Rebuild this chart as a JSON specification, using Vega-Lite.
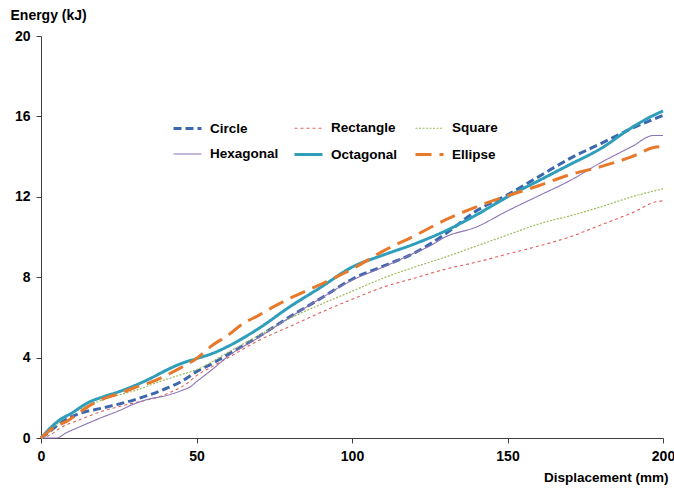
{
  "$schema": "https://vega.github.io/schema/vega-lite/v6.json",
  "width": 622,
  "height": 402,
  "autosize": {"type": "none"},
  "padding": {"left": 41, "top": 36, "right": 11, "bottom": 52},
  "background": "white",
  "config": {
    "view": {"stroke": null},
    "font": "Liberation Sans"
  },
  "data": {
    "values": [
      {"series": "Circle", "x": 0, "y": 0},
      {"series": "Circle", "x": 3, "y": 0.35},
      {"series": "Circle", "x": 6, "y": 0.73},
      {"series": "Circle", "x": 12, "y": 1.2},
      {"series": "Circle", "x": 20, "y": 1.5},
      {"series": "Circle", "x": 30, "y": 1.9},
      {"series": "Circle", "x": 40, "y": 2.45},
      {"series": "Circle", "x": 45, "y": 2.8},
      {"series": "Circle", "x": 50, "y": 3.3},
      {"series": "Circle", "x": 55, "y": 3.7},
      {"series": "Circle", "x": 60, "y": 4.15},
      {"series": "Circle", "x": 70, "y": 5.05},
      {"series": "Circle", "x": 80, "y": 6.03},
      {"series": "Circle", "x": 90, "y": 6.95},
      {"series": "Circle", "x": 100, "y": 7.9},
      {"series": "Circle", "x": 110, "y": 8.55},
      {"series": "Circle", "x": 120, "y": 9.2},
      {"series": "Circle", "x": 130, "y": 10.15},
      {"series": "Circle", "x": 140, "y": 11.3},
      {"series": "Circle", "x": 150, "y": 12.1},
      {"series": "Circle", "x": 160, "y": 13.0},
      {"series": "Circle", "x": 170, "y": 13.9},
      {"series": "Circle", "x": 180, "y": 14.65},
      {"series": "Circle", "x": 190, "y": 15.4},
      {"series": "Circle", "x": 200, "y": 16.05},

      {"series": "Rectangle", "x": 0, "y": 0},
      {"series": "Rectangle", "x": 3, "y": 0.15},
      {"series": "Rectangle", "x": 6, "y": 0.48},
      {"series": "Rectangle", "x": 12, "y": 0.88},
      {"series": "Rectangle", "x": 20, "y": 1.35},
      {"series": "Rectangle", "x": 25, "y": 1.56},
      {"series": "Rectangle", "x": 30, "y": 1.75},
      {"series": "Rectangle", "x": 38, "y": 2.05},
      {"series": "Rectangle", "x": 42, "y": 2.3},
      {"series": "Rectangle", "x": 47, "y": 2.72},
      {"series": "Rectangle", "x": 50, "y": 3.1},
      {"series": "Rectangle", "x": 55, "y": 3.55},
      {"series": "Rectangle", "x": 60, "y": 3.98},
      {"series": "Rectangle", "x": 70, "y": 4.85},
      {"series": "Rectangle", "x": 80, "y": 5.55},
      {"series": "Rectangle", "x": 90, "y": 6.25},
      {"series": "Rectangle", "x": 100, "y": 6.9},
      {"series": "Rectangle", "x": 110, "y": 7.5},
      {"series": "Rectangle", "x": 120, "y": 7.95},
      {"series": "Rectangle", "x": 130, "y": 8.4},
      {"series": "Rectangle", "x": 140, "y": 8.75},
      {"series": "Rectangle", "x": 150, "y": 9.15},
      {"series": "Rectangle", "x": 160, "y": 9.55},
      {"series": "Rectangle", "x": 170, "y": 10.0},
      {"series": "Rectangle", "x": 180, "y": 10.6},
      {"series": "Rectangle", "x": 190, "y": 11.2},
      {"series": "Rectangle", "x": 198, "y": 11.76},
      {"series": "Rectangle", "x": 200, "y": 11.8},

      {"series": "Square", "x": 0, "y": 0},
      {"series": "Square", "x": 3, "y": 0.4},
      {"series": "Square", "x": 6, "y": 0.8},
      {"series": "Square", "x": 12, "y": 1.4},
      {"series": "Square", "x": 20, "y": 1.9},
      {"series": "Square", "x": 25, "y": 2.14},
      {"series": "Square", "x": 30, "y": 2.35},
      {"series": "Square", "x": 38, "y": 2.8},
      {"series": "Square", "x": 45, "y": 3.15},
      {"series": "Square", "x": 50, "y": 3.4},
      {"series": "Square", "x": 60, "y": 4.25},
      {"series": "Square", "x": 70, "y": 5.1},
      {"series": "Square", "x": 80, "y": 5.95},
      {"series": "Square", "x": 90, "y": 6.65},
      {"series": "Square", "x": 100, "y": 7.3},
      {"series": "Square", "x": 110, "y": 7.95},
      {"series": "Square", "x": 120, "y": 8.5},
      {"series": "Square", "x": 130, "y": 9.0},
      {"series": "Square", "x": 140, "y": 9.55},
      {"series": "Square", "x": 150, "y": 10.1},
      {"series": "Square", "x": 160, "y": 10.65},
      {"series": "Square", "x": 170, "y": 11.05},
      {"series": "Square", "x": 180, "y": 11.5},
      {"series": "Square", "x": 190, "y": 12.0},
      {"series": "Square", "x": 200, "y": 12.4},

      {"series": "Hexagonal", "x": 0, "y": 0},
      {"series": "Hexagonal", "x": 5, "y": 0},
      {"series": "Hexagonal", "x": 8, "y": 0.25},
      {"series": "Hexagonal", "x": 12.5, "y": 0.56},
      {"series": "Hexagonal", "x": 20, "y": 1.05},
      {"series": "Hexagonal", "x": 25, "y": 1.35},
      {"series": "Hexagonal", "x": 30, "y": 1.7},
      {"series": "Hexagonal", "x": 35, "y": 1.95},
      {"series": "Hexagonal", "x": 40, "y": 2.1},
      {"series": "Hexagonal", "x": 45, "y": 2.35},
      {"series": "Hexagonal", "x": 48, "y": 2.55},
      {"series": "Hexagonal", "x": 50, "y": 2.8},
      {"series": "Hexagonal", "x": 55, "y": 3.4},
      {"series": "Hexagonal", "x": 60, "y": 4.05},
      {"series": "Hexagonal", "x": 70, "y": 5.0},
      {"series": "Hexagonal", "x": 80, "y": 6.0},
      {"series": "Hexagonal", "x": 90, "y": 6.95},
      {"series": "Hexagonal", "x": 100, "y": 7.85},
      {"series": "Hexagonal", "x": 110, "y": 8.5},
      {"series": "Hexagonal", "x": 120, "y": 9.2},
      {"series": "Hexagonal", "x": 125, "y": 9.55},
      {"series": "Hexagonal", "x": 130, "y": 10.0},
      {"series": "Hexagonal", "x": 140, "y": 10.5},
      {"series": "Hexagonal", "x": 150, "y": 11.3},
      {"series": "Hexagonal", "x": 160, "y": 12.05},
      {"series": "Hexagonal", "x": 170, "y": 12.8},
      {"series": "Hexagonal", "x": 180, "y": 13.7},
      {"series": "Hexagonal", "x": 190, "y": 14.5},
      {"series": "Hexagonal", "x": 197, "y": 15.05},
      {"series": "Hexagonal", "x": 200, "y": 15.05},

      {"series": "Octagonal", "x": 0, "y": 0},
      {"series": "Octagonal", "x": 3, "y": 0.5},
      {"series": "Octagonal", "x": 6, "y": 0.9},
      {"series": "Octagonal", "x": 10, "y": 1.25},
      {"series": "Octagonal", "x": 15, "y": 1.75},
      {"series": "Octagonal", "x": 20, "y": 2.05},
      {"series": "Octagonal", "x": 25, "y": 2.3},
      {"series": "Octagonal", "x": 30, "y": 2.6},
      {"series": "Octagonal", "x": 35, "y": 2.95},
      {"series": "Octagonal", "x": 40, "y": 3.35},
      {"series": "Octagonal", "x": 45, "y": 3.7},
      {"series": "Octagonal", "x": 50, "y": 3.95},
      {"series": "Octagonal", "x": 55, "y": 4.2},
      {"series": "Octagonal", "x": 60, "y": 4.55},
      {"series": "Octagonal", "x": 70, "y": 5.45},
      {"series": "Octagonal", "x": 80, "y": 6.53},
      {"series": "Octagonal", "x": 90, "y": 7.5},
      {"series": "Octagonal", "x": 100, "y": 8.5},
      {"series": "Octagonal", "x": 110, "y": 9.1},
      {"series": "Octagonal", "x": 120, "y": 9.65},
      {"series": "Octagonal", "x": 130, "y": 10.3},
      {"series": "Octagonal", "x": 140, "y": 11.1},
      {"series": "Octagonal", "x": 150, "y": 12.0},
      {"series": "Octagonal", "x": 160, "y": 12.8},
      {"series": "Octagonal", "x": 170, "y": 13.6},
      {"series": "Octagonal", "x": 180, "y": 14.4},
      {"series": "Octagonal", "x": 190, "y": 15.45},
      {"series": "Octagonal", "x": 195, "y": 15.9},
      {"series": "Octagonal", "x": 200, "y": 16.27},

      {"series": "Ellipse", "x": 0, "y": 0},
      {"series": "Ellipse", "x": 3, "y": 0.4},
      {"series": "Ellipse", "x": 9, "y": 0.9},
      {"series": "Ellipse", "x": 15, "y": 1.55},
      {"series": "Ellipse", "x": 20, "y": 1.95},
      {"series": "Ellipse", "x": 25, "y": 2.2},
      {"series": "Ellipse", "x": 30, "y": 2.5},
      {"series": "Ellipse", "x": 35, "y": 2.75},
      {"series": "Ellipse", "x": 40, "y": 3.1},
      {"series": "Ellipse", "x": 45, "y": 3.5},
      {"series": "Ellipse", "x": 50, "y": 3.95},
      {"series": "Ellipse", "x": 55, "y": 4.6},
      {"series": "Ellipse", "x": 60, "y": 5.1},
      {"series": "Ellipse", "x": 65, "y": 5.7},
      {"series": "Ellipse", "x": 70, "y": 6.1},
      {"series": "Ellipse", "x": 75, "y": 6.55},
      {"series": "Ellipse", "x": 80, "y": 6.95},
      {"series": "Ellipse", "x": 90, "y": 7.65},
      {"series": "Ellipse", "x": 100, "y": 8.4},
      {"series": "Ellipse", "x": 110, "y": 9.3},
      {"series": "Ellipse", "x": 120, "y": 10.05},
      {"series": "Ellipse", "x": 130, "y": 10.85},
      {"series": "Ellipse", "x": 140, "y": 11.5},
      {"series": "Ellipse", "x": 150, "y": 12.05},
      {"series": "Ellipse", "x": 160, "y": 12.55},
      {"series": "Ellipse", "x": 170, "y": 13.1},
      {"series": "Ellipse", "x": 180, "y": 13.5},
      {"series": "Ellipse", "x": 190, "y": 14.0},
      {"series": "Ellipse", "x": 197, "y": 14.45},
      {"series": "Ellipse", "x": 200, "y": 14.5}
    ]
  },
  "mark": {"type": "line", "interpolate": "monotone"},
  "encoding": {
    "x": {
      "field": "x",
      "type": "quantitative",
      "scale": {"domain": [0, 200], "nice": false},
      "axis": {
        "values": [0, 50, 100, 150, 200],
        "title": "Displacement (mm)",
        "grid": false,
        "domainColor": "#404040",
        "tickColor": "#404040",
        "tickSize": 5,
        "labelFont": "Liberation Sans",
        "labelFontWeight": "bold",
        "labelFontSize": 14,
        "labelColor": "black",
        "labelPadding": 6,
        "labelFlush": false,
        "titleFont": "Liberation Sans",
        "titleFontWeight": "bold",
        "titleFontSize": 13.5,
        "titleColor": "black",
        "titleAnchor": "end",
        "titleAlign": "right",
        "titleBaseline": "alphabetic",
        "titleX": 627,
        "titleY": 43
      }
    },
    "y": {
      "field": "y",
      "type": "quantitative",
      "scale": {"domain": [0, 20], "nice": false},
      "axis": {
        "values": [0, 4, 8, 12, 16, 20],
        "title": "Energy (kJ)",
        "grid": false,
        "domainColor": "#404040",
        "tickColor": "#404040",
        "tickSize": 5,
        "labelFont": "Liberation Sans",
        "labelFontWeight": "bold",
        "labelFontSize": 14,
        "labelColor": "black",
        "labelPadding": 6,
        "labelFlush": false,
        "titleFont": "Liberation Sans",
        "titleFontWeight": "bold",
        "titleFontSize": 14,
        "titleColor": "black",
        "titleAngle": 0,
        "titleAlign": "left",
        "titleBaseline": "alphabetic",
        "titleX": -31,
        "titleY": -17
      }
    },
    "color": {
      "field": "series",
      "type": "nominal",
      "scale": {
        "domain": ["Circle", "Rectangle", "Square", "Hexagonal", "Octagonal", "Ellipse"],
        "range": ["#3B67AE", "#E0605A", "#9BBB59", "#8C73B5", "#2F9EBB", "#E8792B"]
      },
      "legend": {
        "title": null,
        "orient": "none",
        "legendX": 131,
        "legendY": 77,
        "columns": 3,
        "direction": "horizontal",
        "gridAlign": "all",
        "columnPadding": 9,
        "rowPadding": 4,
        "symbolType": "stroke",
        "symbolSize": 784,
        "symbolOffset": 0,
        "labelOffset": 7,
        "labelFont": "Liberation Sans",
        "labelFontWeight": "bold",
        "labelFontSize": 13.5,
        "labelColor": "black",
        "padding": 0
      }
    },
    "strokeDash": {
      "field": "series",
      "type": "nominal",
      "scale": {
        "domain": ["Circle", "Rectangle", "Square", "Hexagonal", "Octagonal", "Ellipse"],
        "range": [[8, 4], [3, 3], [2, 1.5], [1, 0], [1, 0], [16, 8]]
      },
      "legend": null
    },
    "strokeWidth": {
      "field": "series",
      "type": "nominal",
      "scale": {
        "type": "ordinal",
        "domain": ["Circle", "Rectangle", "Square", "Hexagonal", "Octagonal", "Ellipse"],
        "range": [3, 1.1, 1.2, 1.1, 3, 3]
      },
      "legend": null
    }
  }
}
